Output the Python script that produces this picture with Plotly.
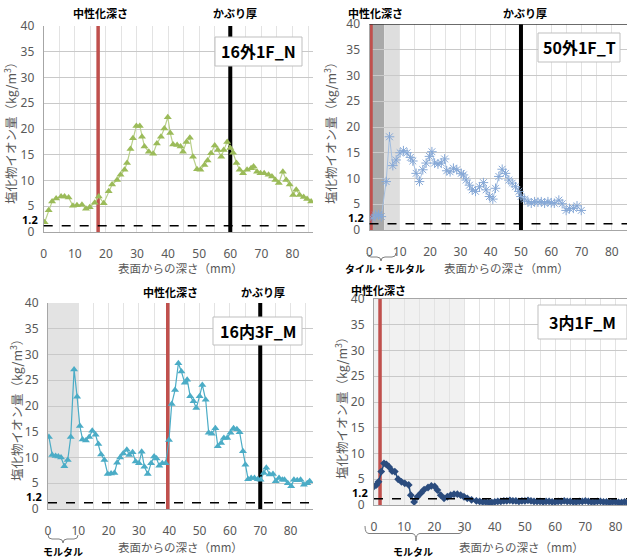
import plotly.graph_objects as go

# ---------------- data ----------------
p1_x = [0.3, 1.6, 2.7, 4, 5.6, 6.7, 8, 9.4, 10.7, 12.3, 13.6, 14.8, 16.4, 17.7, 19.3,
        20.9, 22, 23.6, 24.7, 26, 26.8, 27.9, 28.7, 29.8, 30.9, 31.6, 32.4, 33.8, 35.2, 36.4,
        37.7, 38.8, 39.9, 40.7, 41.6, 42.9, 44, 44.8, 45.9, 47, 48, 49.3, 50.4, 51.7, 52.7,
        53.8, 55, 56, 57.1, 57.9, 59, 60, 60.9, 62, 63, 64.1, 65.4, 66.7, 67.5, 68.6,
        69.7, 70.9, 72.3, 73.4, 74.5, 75.6, 76.9, 78, 79.1, 80.2, 81.2, 82.3, 83.6, 84.7, 86]
p1_y = [1.9, 4.2, 5.9, 6.5, 6.9, 6.9, 6.7, 5.1, 5.2, 5.3, 4.5, 4.8, 5.7, 6.9, 5.6,
        7.9, 9.2, 10.1, 11.1, 12.1, 13.4, 16.1, 18.2, 20.6, 20.6, 18.5, 16.6, 15.6, 15.2, 17.2,
        18.5, 20.1, 22.3, 19.2, 17.0, 16.9, 16.6, 15.6, 17.5, 18.3, 14.6, 12.2, 12.1, 13.0, 13.9,
        15.3, 16.8, 15.9, 14.6, 15.9, 17.5, 16.3, 15.4, 13.4, 12.1, 11.4, 12.1, 12.4, 12.7, 11.7,
        11.4, 11.4, 11.1, 10.8, 10.1, 9.5, 11.7, 10.1, 9.2, 7.2, 8.2, 7.2, 6.8, 6.4, 5.9]

p2_x = [0.9, 2, 3, 3.9, 5.5, 6.6, 7.7, 8.8, 10.1, 11.2, 12.4, 13.5, 14.3, 15.4, 16.5,
        17.6, 18.7, 19.8, 20.6, 21.5, 22.6, 23.7, 24.8, 25.5, 26.6, 27.7, 28.8, 30.3, 31, 31.9,
        33, 33.9, 35, 36.3, 37.6, 38.5, 39.6, 40.7, 41.6, 42.7, 43.8, 44.9, 46, 47.1, 48.2,
        49.3, 50, 51.2, 52.3, 53.4, 54.5, 55.6, 56.7, 57.8, 58.9, 60, 61, 62.5, 63.6, 64.9,
        66, 67.3, 68.5, 69.9]
p2_y = [2.3, 2.9, 3.0, 2.6, 9.4, 18.1, 12.5, 13.6, 15.0, 15.4, 15.0, 14.1, 13.4, 11.0, 9.4,
        11.7, 13.0, 14.3, 15.2, 13.0, 12.8, 13.0, 13.8, 11.5, 11.3, 12.0, 11.7, 11.0, 10.7, 9.7,
        8.7, 7.8, 7.5, 8.4, 9.2, 7.8, 6.5, 6.0, 8.1, 10.4, 11.8, 11.0, 9.7, 9.1, 8.4,
        7.5, 6.5, 6.0, 5.5, 5.2, 5.5, 5.4, 5.5, 5.2, 5.5, 5.3, 5.2, 5.8, 5.1, 3.8,
        4.2, 4.2, 4.7, 3.8]

p3_x = [0.3, 1.4, 2.5, 3.4, 4.3, 5.4, 6.5, 7.5, 8.6, 9.6, 10.5, 11.4, 12.5, 13.6, 14.6,
        15.7, 16.6, 17.5, 18.6, 19.7, 20.8, 21.9, 22.8, 23.8, 24.8, 26, 26.8, 27.9, 28.9, 30,
        30.9, 31.8, 32.9, 34, 35, 35.8, 36.7, 37.7, 38.8, 39.9, 40.8, 41.9, 43, 44, 45.1,
        45.9, 46.9, 48, 48.9, 50, 50.9, 52, 53, 54, 55.2, 56, 57.1, 58, 59.1, 60.2,
        61.2, 62.3, 63.2, 64.3, 65.1, 66, 67, 68.1, 69.2, 70.1, 71.2, 72, 73.1, 74.2, 75.1,
        76.2, 77.3, 78, 79.1, 80.2, 81.1, 82.2, 83.3, 84.4, 85.5, 86.3]
p3_y = [14.0, 10.5, 10.3, 10.2, 10.0, 8.3, 9.5, 14.0, 27.1, 21.8, 16.1, 13.5, 13.3, 14.0, 15.2,
        14.4, 12.6, 10.6, 9.5, 6.8, 6.9, 7.0, 9.0, 10.0, 10.8, 11.5, 10.5, 11.0, 9.2, 8.9,
        11.1, 8.2, 6.8, 8.9, 10.2, 9.8, 8.4, 8.9, 8.9, 13.4, 20.4, 23.1, 28.3, 26.7, 24.5,
        25.1, 21.9, 20.9, 19.6, 21.9, 24.1, 21.2, 14.8, 14.6, 15.7, 12.2, 12.8, 13.8, 13.8, 14.8,
        15.7, 15.5, 14.9, 11.2, 8.6, 5.8, 6.0, 6.0, 5.8, 5.7, 7.0, 8.0, 6.7, 6.8, 5.4,
        6.0, 5.7, 5.7, 5.0, 4.4, 5.7, 5.6, 5.7, 4.7, 5.0, 5.4]

p4_x = [0, 0.8, 1.5, 2.4, 3.3, 4.1, 5, 6, 6.9, 8, 9.1, 10.2, 11.5, 12.2, 13.3, 14.4, 15.5,
        16.6, 17.9, 19, 20.1, 21, 22.1, 23.2, 24.3, 25.4, 26.5, 27.6, 28.7, 29.8, 30.9, 32.3, 33.9,
        35, 36, 37, 38, 39, 40, 41, 42, 43, 44, 45, 46, 47, 48, 49, 50, 51, 52, 53, 54,
        55, 56, 57, 58, 59, 60, 61, 62, 63, 64, 65, 66, 67, 68, 69, 70, 71, 72, 73, 74,
        75, 76, 77, 78, 79, 80, 81, 82, 83, 84]
p4_y = [3.6, 3.9, 4.5, 6.5, 8.1, 7.9, 7.4, 6.6, 6.5, 5.0, 4.5, 4.2, 3.9, 1.9, 0.6, 1.6, 2.3,
        3.0, 3.4, 3.7, 3.6, 2.9, 1.9, 1.3, 1.6, 1.9, 2.1, 2.1, 1.9, 1.6, 1.3, 1.0, 0.8,
        0.7, 0.6, 0.6, 0.5, 0.5, 0.6, 0.7, 0.7, 0.8, 0.8, 0.9, 0.8, 0.8, 0.7, 0.8, 0.8, 0.9, 0.8, 0.7, 0.7,
        0.7, 0.6, 0.7, 0.7, 0.6, 0.6, 0.7, 0.7, 0.8, 0.7, 0.7, 0.6, 0.6, 0.7, 0.7, 0.8, 0.7, 0.6, 0.6, 0.7,
        0.7, 0.6, 0.6, 0.5, 0.6, 0.6, 0.5, 0.5, 0.6, 0.5]

x_ticks = [0, 10, 20, 30, 40, 50, 60, 70, 80]
y_ticks = [0, 5, 10, 15, 20, 25, 30, 35, 40]
threshold = 1.2
titles = ["16外1F_N", "50外1F_T", "16内3F_M", "3内1F_M"]
neutral_depth = [17.5, 0.5, 39.5, 2.0]
cover_depth = [60, 50, 70, None]

# ---------------- layout helpers ----------------
W, H = 627, 559
def PX(x): return x / W
def PY(y): return 1 - y / H

JP = "Noto Sans CJK JP"
NUM = "Noto Sans"
GRAY = "#595959"

panels = [
    dict(xd=(43.7, 313), yd=(26, 232), xr=(0, 86.6)),
    dict(xd=(369.5, 627), yd=(24, 230), xr=(0, 85)),
    dict(xd=(48, 313), yd=(303, 509), xr=(0, 87.4)),
    dict(xd=(374, 627), yd=(299, 505), xr=(0, 83.8)),
]

fig = go.Figure()
layout = dict(width=W, height=H, margin=dict(l=0, r=0, t=0, b=0, autoexpand=False),
              paper_bgcolor="white", plot_bgcolor="white", showlegend=False)
shapes, annotations = [], []

series = [
    (p1_x, p1_y, dict(color="#B9D08A", width=1.2), dict(symbol="triangle-up", size=7, color="#9BBB59")),
    (p2_x, p2_y, dict(color="#A3BEE0", width=1), dict(symbol="asterisk-open", size=8, color="#86A8D6",
                                                       line=dict(color="#86A8D6", width=1))),
    (p3_x, p3_y, dict(color="#4BACC6", width=1.2), dict(symbol="triangle-up", size=7, color="#4BACC6")),
    (p4_x, p4_y, dict(color="#1F497D", width=1.5), dict(symbol="diamond", size=6, color="#2B4C7E")),
]

for i, p in enumerate(panels):
    n = "" if i == 0 else str(i + 1)
    xa, ya = "x" + n, "y" + n
    xd = (PX(p["xd"][0]), PX(p["xd"][1]))
    yd = (PY(p["yd"][1]), PY(p["yd"][0]))
    mirror = (i == 3)
    layout["xaxis" + n] = dict(domain=xd, range=list(p["xr"]), anchor=ya, tickvals=x_ticks,
                               showgrid=True, gridcolor="#E3E3E3", gridwidth=1,
                               minor=dict(dtick=5, tick0=0, showgrid=True, gridcolor="#E3E3E3"),
                               showline=True, linecolor="#A6A6A6", linewidth=1, mirror=mirror,
                               zeroline=False, ticks="", ticklabelstandoff=11, automargin=False,
                               tickfont=dict(family=NUM, size=12, color=GRAY), fixedrange=True)
    layout["yaxis" + n] = dict(domain=yd, range=[0, 40], anchor=xa, tickvals=y_ticks,
                               showgrid=True, gridcolor="#C9C9C9", gridwidth=1,
                               showline=True, linecolor="#A6A6A6", linewidth=1, mirror=mirror,
                               zeroline=False, ticks="", ticklabelstandoff=6, automargin=False,
                               tickfont=dict(family=NUM, size=12, color=GRAY), fixedrange=True)
    sx, sy, ln, mk = series[i]
    fig.add_trace(go.Scatter(x=sx, y=sy, xaxis=xa, yaxis=ya, mode="lines+markers",
                             line=ln, marker=mk, hoverinfo="skip"))

    # threshold dashed line
    shapes.append(dict(type="line", xref=xa + " domain", yref=ya, x0=0, x1=1, y0=threshold, y1=threshold,
                       line=dict(color="black", width=1.5, dash="dash"), layer="above"))
    annotations.append(dict(xref=xa + " domain", yref=ya, x=0, y=threshold, xanchor="right", yanchor="bottom",
                            xshift=-4, yshift=-3, text="<b>1.2</b>", showarrow=False,
                            font=dict(family=NUM, size=11, color="black")))
    # neutralisation depth line
    shapes.append(dict(type="line", xref=xa, yref=ya, x0=neutral_depth[i], x1=neutral_depth[i], y0=0, y1=40,
                       line=dict(color="#C0504D", width=3.5), layer="between"))
    if cover_depth[i] is not None:
        shapes.append(dict(type="line", xref=xa, yref=ya, x0=cover_depth[i], x1=cover_depth[i], y0=0, y1=40,
                           line=dict(color="black", width=4), layer="between"))

# shaded layers (tile / mortar)
shapes.append(dict(type="rect", xref="x2", yref="y2", x0=0, x1=5, y0=0, y1=40,
                   fillcolor="#A9A9A9", line=dict(width=0), layer="below"))
shapes.append(dict(type="rect", xref="x2", yref="y2", x0=5, x1=10, y0=0, y1=40,
                   fillcolor="#DEDEDE", line=dict(width=0), layer="below"))
shapes.append(dict(type="rect", xref="x3", yref="y3", x0=0, x1=10, y0=0, y1=40,
                   fillcolor="#E3E3E3", line=dict(width=0), layer="below"))
shapes.append(dict(type="rect", xref="x4", yref="y4", x0=0, x1=30, y0=0, y1=40,
                   fillcolor="#F1F1F1", line=dict(width=0), layer="below"))
# dark top border of panel 2
shapes.append(dict(type="line", xref="x2 domain", yref="y2", x0=0, x1=1, y0=40, y1=40,
                   line=dict(color="#3A3A3A", width=1.5), layer="above"))

# title boxes
boxes = [(215, 302, 37, 66), (538, 620, 33, 62), (213, 302, 317, 345), (538, 627, 305, 339)]
for (x0, x1, y0, y1), t in zip(boxes, titles):
    shapes.append(dict(type="rect", xref="paper", yref="paper", x0=PX(x0), x1=PX(x1), y0=PY(y1), y1=PY(y0),
                       fillcolor="white", line=dict(color="#BFBFBF", width=1), layer="above"))
    annotations.append(dict(xref="paper", yref="paper", x=PX((x0 + x1) / 2), y=PY((y0 + y1) / 2),
                            text="<b>" + t + "</b>", showarrow=False, xanchor="center", yanchor="middle",
                            font=dict(family=JP, size=16, color="black")))

# labels
def label(x, y, text, size=11, bold=True, color="black", angle=0):
    annotations.append(dict(xref="paper", yref="paper", x=PX(x), y=PY(y), text=("<b>%s</b>" % text) if bold else text,
                            showarrow=False, xanchor="center", yanchor="middle", textangle=angle,
                            font=dict(family=JP, size=size, color=color)))

label(100, 13, "中性化深さ"); label(235, 13, "かぶり厚")
label(376, 13, "中性化深さ"); label(525, 13, "かぶり厚")
label(170, 292, "中性化深さ"); label(263, 292, "かぶり厚")
label(378, 290, "中性化深さ")

# axis titles
ytitle = "塩化物イオン量（kg/m<sup>3</sup>）"
xtitle = "表面からの深さ（mm）"
for (x, y) in [(11, 130), (331, 130), (16, 407), (341, 405)]:
    label(x, y, ytitle, size=12.5, bold=False, color=GRAY, angle=-90)
for (x, y) in [(180, 268), (506, 268), (180, 547), (521, 547)]:
    label(x, y, xtitle, size=11.5, bold=False, color=GRAY)

# braces and layer labels
def brace(x0, x1, xm, ytop, ybot, color="#7F7F7F"):
    ym = (ytop + ybot) / 2
    d = 4
    pts = (f"M {PX(x0)},{PY(ytop)} Q {PX(x0)},{PY(ym)} {PX(x0 + d)},{PY(ym)} "
           f"L {PX(xm - d)},{PY(ym)} Q {PX(xm)},{PY(ym)} {PX(xm)},{PY(ybot)} "
           f"Q {PX(xm)},{PY(ym)} {PX(xm + d)},{PY(ym)} L {PX(x1 - d)},{PY(ym)} "
           f"Q {PX(x1)},{PY(ym)} {PX(x1)},{PY(ytop)}")
    shapes.append(dict(type="path", xref="paper", yref="paper", path=pts,
                       line=dict(color=color, width=1)))

brace(367, 396, 381, 253, 261)
label(385, 269, "タイル・モルタル", size=10)
brace(48, 78, 63, 535, 543)
label(63, 551, "モルタル", size=10)
brace(365, 463, 416, 526, 541)
label(413, 551, "モルタル", size=10)

layout["shapes"] = shapes
layout["annotations"] = annotations
fig.update_layout(**layout)
fig.write_html("out.html", config={"displayModeBar": False},
               post_script="document.body.style.margin='0';document.body.style.overflow='hidden';")
